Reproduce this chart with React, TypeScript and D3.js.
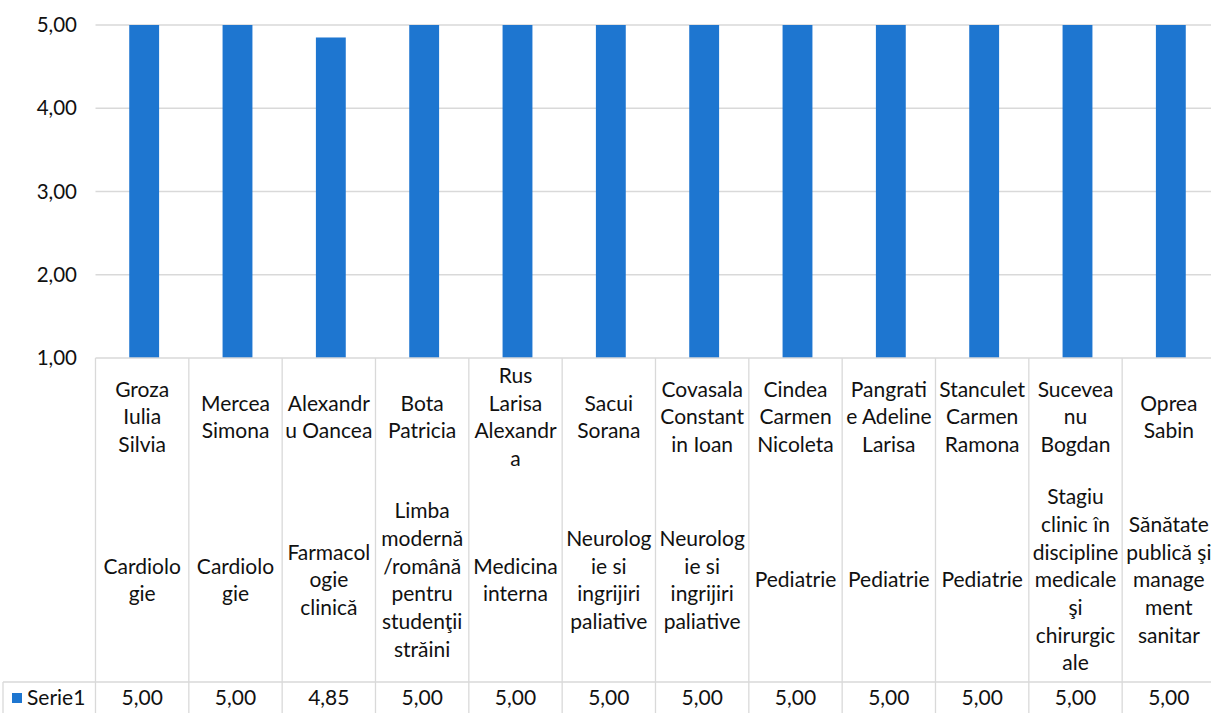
import React, {useEffect, useRef} from 'react';
import * as d3 from "d3"

// nume si specialitati (rupturile de rand ca in original)
const names = [
    "Groza\nIulia\nSilvia", "Mercea\nSimona", "Alexandr\nu Oancea", "Bota\nPatricia",
    "Rus\nLarisa\nAlexandr\na", "Sacui\nSorana", "Covasala\nConstant\nin Ioan", "Cindea\nCarmen\nNicoleta",
    "Pangrati\ne Adeline\nLarisa", "Stanculet\nCarmen\nRamona", "Sucevea\nnu\nBogdan", "Oprea\nSabin"
]
const specs = [
    "Cardiolo\ngie", "Cardiolo\ngie", "Farmacol\nogie\nclinică", "Limba\nmodernă\n/română\npentru\nstudenţii\nstrăini",
    "Medicina\ninterna", "Neurolog\nie si\ningrijiri\npaliative", "Neurolog\nie si\ningrijiri\npaliative", "Pediatrie",
    "Pediatrie", "Pediatrie", "Stagiu\nclinic în\ndiscipline\nmedicale\nşi\nchirurgic\nale", "Sănătate\npublică şi\nmanage\nment\nsanitar"
]
const serie1 = [5.00, 5.00, 4.85, 5.00, 5.00, 5.00, 5.00, 5.00, 5.00, 5.00, 5.00, 5.00]
const yTicks = [1, 2, 3, 4, 5]
const seriesName = "Serie1"

const W = 1211, H = 713
const left = 95.5, right = 1215.5
const top = 25, axisY = 358
const rowSep = 682
const font = "Lato, 'Open Sans', sans-serif"
const fs = 21
const blue = "#1E76D0"
const grid = "#d9d9d9"

const App = () => {
    const svgRef = useRef(null)

    useEffect(() => {
        const svg = d3.select(svgRef.current)
        svg.selectAll("*").remove()

        const idx = serie1.map((d, i) => i)
        const x = d3.scaleBand().domain(idx).range([left, right]).paddingInner(0.68).paddingOuter(0.34)
        const cell = d3.scaleBand().domain(idx).range([left, right])
        const y = d3.scaleLinear().domain([1, 5]).range([axisY, top])
        const fmt = (v) => d3.format(".2f")(v).replace(".", ",")

        // grila
        svg.append("g").selectAll("line").data(yTicks.filter(t => t > 1)).enter().append("line")
            .attr("x1", left).attr("x2", W).attr("y1", d => y(d)).attr("y2", d => y(d))
            .attr("stroke", grid).attr("stroke-width", 1.3)

        // eticheta axa y
        svg.append("g").selectAll("text").data(yTicks).enter().append("text")
            .attr("x", 77).attr("y", d => y(d)).attr("dy", "0.35em")
            .attr("text-anchor", "end").attr("font-family", font).attr("font-size", 20.5).attr("fill", "#111")
            .text(fmt)

        // bare
        svg.append("g").selectAll("rect").data(serie1).enter().append("rect")
            .attr("x", (d, i) => x(i) + 2).attr("width", x.bandwidth())
            .attr("y", d => y(d)).attr("height", d => axisY - y(d))
            .attr("fill", blue)

        // tabel
        const t = svg.append("g").attr("stroke", grid).attr("stroke-width", 1.3)
        t.append("line").attr("x1", left).attr("x2", W).attr("y1", axisY).attr("y2", axisY)
        t.append("line").attr("x1", 3).attr("x2", W).attr("y1", rowSep).attr("y2", rowSep)
        t.append("line").attr("x1", 3).attr("x2", 3).attr("y1", rowSep).attr("y2", H)
        t.selectAll(".v").data(idx.concat([12])).enter().append("line")
            .attr("x1", i => i < 12 ? cell(i) : right).attr("x2", i => i < 12 ? cell(i) : right)
            .attr("y1", axisY).attr("y2", H)

        const lh = 27.7
        const block = (g, txt, cy, cx) => {
            const lines = txt.split("\n")
            const y0 = cy - (lines.length - 1) * lh / 2
            const el = g.append("text").attr("text-anchor", "middle").attr("font-family", font)
                .attr("font-size", fs).attr("fill", "#111")
            lines.forEach((l, k) => {
                el.append("tspan").attr("x", cx).attr("y", y0 + k * lh).attr("dy", "0.35em").text(l)
            })
        }
        const lab = svg.append("g")
        names.forEach((n, i) => block(lab, n, 417, cell(i) + cell.bandwidth() / 2))
        specs.forEach((s, i) => block(lab, s, 580, cell(i) + cell.bandwidth() / 2))

        // randul cu valori
        svg.append("g").selectAll("text").data(serie1).enter().append("text")
            .attr("x", (d, i) => cell(i) + cell.bandwidth() / 2).attr("y", 698).attr("dy", "0.35em")
            .attr("text-anchor", "middle").attr("font-family", font).attr("font-size", fs).attr("fill", "#111")
            .text(fmt)

        // legenda
        svg.append("rect").attr("x", 12).attr("y", 693).attr("width", 10).attr("height", 10).attr("fill", blue)
        svg.append("text").attr("x", 27).attr("y", 698).attr("dy", "0.35em")
            .attr("font-family", font).attr("font-size", fs).attr("fill", "#111").text(seriesName)
    }, [])

    return <svg ref={svgRef} width={W} height={H}
                style={{position: "absolute", left: 0, top: 0, background: "#fff"}}/>
};

export default App;
